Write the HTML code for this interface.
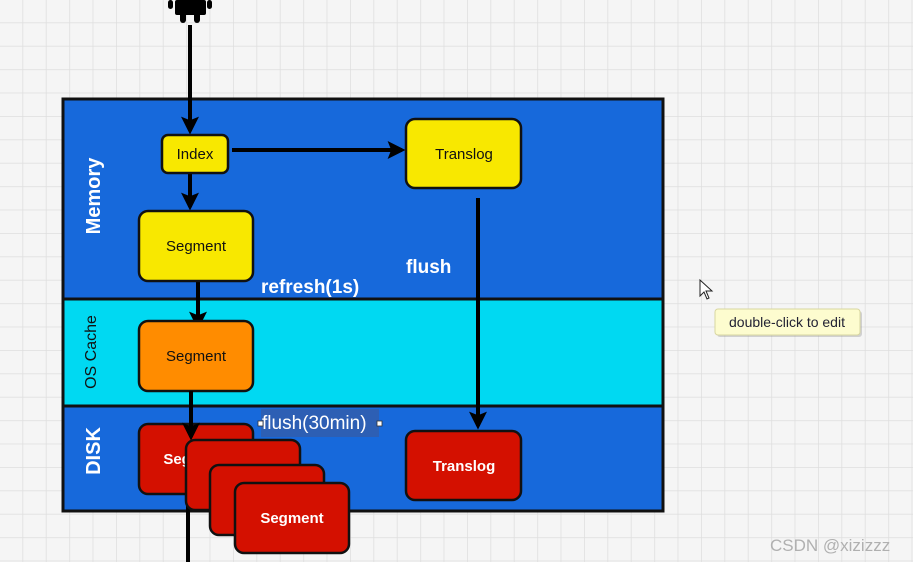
<!DOCTYPE html>
<html><head><meta charset="utf-8"><style>
html,body{margin:0;padding:0;width:913px;height:562px;overflow:hidden;background:#f3f3f3}
svg{display:block}
text{font-family:"Liberation Sans",sans-serif}
</style></head><body>
<svg width="913" height="562" viewBox="0 0 913 562" xmlns="http://www.w3.org/2000/svg">
<defs>
<pattern id="g" width="23.4" height="23.4" patternUnits="userSpaceOnUse" x="-1" y="-1">
<rect width="23.4" height="23.4" fill="#f5f5f5"/>
<path d="M0 0H23.4M0 0V23.4" stroke="#dedede" stroke-width="1.5" fill="none"/>
</pattern>
<marker id="a" viewBox="0 0 10 10" refX="8" refY="5" markerWidth="4.5" markerHeight="4.5" orient="auto"><path d="M0 0L10 5L0 10L2 5Z" fill="#000"/></marker>
</defs>
<rect width="913" height="562" fill="url(#g)"/>
<!-- android -->
<rect x="168" y="0" width="5" height="9" rx="2.5" fill="#000"/>
<rect x="207" y="0" width="5" height="9" rx="2.5" fill="#000"/>
<rect x="175" y="0" width="31" height="15" rx="2" fill="#000"/>
<rect x="180" y="8" width="6" height="15" rx="3" fill="#000"/>
<rect x="194" y="8" width="6" height="15" rx="3" fill="#000"/>
<!-- bands -->
<rect x="63" y="99" width="600" height="412" fill="#1769db" stroke="#111" stroke-width="3"/>
<rect x="63" y="299" width="600" height="107" fill="#00d9f2" stroke="#111" stroke-width="3"/>
<text transform="translate(100,196) rotate(-90)" text-anchor="middle" fill="#fff" font-size="20" font-weight="bold">Memory</text>
<text transform="translate(96,352) rotate(-90)" text-anchor="middle" fill="#111" font-size="16">OS Cache</text>
<text transform="translate(100,451) rotate(-90)" text-anchor="middle" fill="#fff" font-size="20" font-weight="bold">DISK</text>
<!-- arrows -->
<g stroke="#000" stroke-width="4" fill="none">
<line x1="190" y1="25" x2="190" y2="131" marker-end="url(#a)"/>
<line x1="190" y1="173" x2="190" y2="207" marker-end="url(#a)"/>
<line x1="232" y1="150" x2="402" y2="150" marker-end="url(#a)"/>
<line x1="198" y1="281" x2="198" y2="326" marker-end="url(#a)"/>
<line x1="478" y1="198" x2="478" y2="426" marker-end="url(#a)"/>
<line x1="188" y1="562" x2="188" y2="494"/>
</g>
<!-- boxes -->
<g stroke="#111" stroke-width="2.5">
<rect x="162" y="135" width="66" height="38" rx="6" fill="#f8e800"/>
<rect x="406" y="119" width="115" height="69" rx="9" fill="#f8e800"/>
<rect x="139" y="211" width="114" height="70" rx="9" fill="#f8e800"/>
<rect x="139" y="321" width="114" height="70" rx="9" fill="#ff8c00"/>
<rect x="139" y="424" width="114" height="70" rx="9" fill="#d41000"/>
<rect x="406" y="431" width="115" height="69" rx="9" fill="#d41000"/>
</g>
<line x1="191" y1="391" x2="191" y2="437" stroke="#000" stroke-width="4" marker-end="url(#a)"/>
<text x="195" y="464" text-anchor="middle" fill="#fff" font-size="15" font-weight="bold">Segment</text>
<g stroke="#111" stroke-width="2.5" fill="#d41000">
<rect x="186" y="440" width="114" height="70" rx="9"/>
<rect x="210" y="465" width="114" height="70" rx="9"/>
<rect x="235" y="483" width="114" height="70" rx="9"/>
</g>
<g font-size="15" text-anchor="middle">
<text x="195" y="159" fill="#111">Index</text>
<text x="464" y="159" fill="#111">Translog</text>
<text x="196" y="251" fill="#111">Segment</text>
<text x="196" y="361" fill="#111">Segment</text>
<text x="464" y="471" fill="#fff" font-weight="bold">Translog</text>
<text x="292" y="523" fill="#fff" font-weight="bold">Segment</text>
</g>
<text x="406" y="273" fill="#fff" font-size="19" font-weight="bold">flush</text>
<text x="261" y="293" fill="#fff" font-size="19" font-weight="bold">refresh(1s)</text>
<rect x="261" y="409" width="118" height="28" fill="#2d5fb4"/>
<text x="262" y="429" fill="#fff" font-size="19">flush(30min)</text>
<rect x="258" y="421" width="5" height="5" fill="#fff" stroke="#333" stroke-width="0.8"/>
<rect x="377" y="421" width="5" height="5" fill="#fff" stroke="#333" stroke-width="0.8"/>
<!-- cursor -->
<path d="M700 280 L700 296 L704 292 L707 299 L709 298 L706 291 L712 291 Z" fill="#fff" stroke="#222" stroke-width="1"/>
<!-- tooltip -->
<rect x="717" y="311" width="145" height="26" rx="3" fill="#999" opacity="0.4"/>
<rect x="715" y="309" width="145" height="26" rx="3" fill="#fdfccf" stroke="#d8d6a0"/>
<text x="787" y="327" text-anchor="middle" fill="#223" font-size="14">double-click to edit</text>
<text x="770" y="551" fill="#b0b0b0" font-size="17">CSDN @xizizzz</text>
</svg>
</body></html>
